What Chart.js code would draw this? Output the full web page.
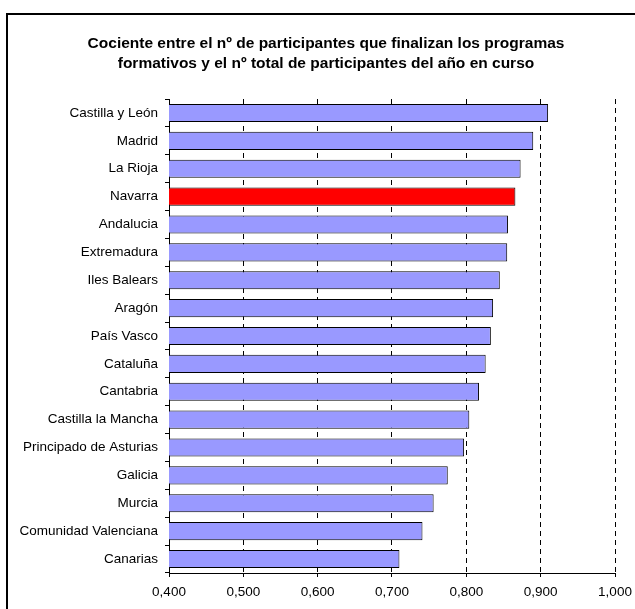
<!DOCTYPE html>
<html>
<head>
<meta charset="utf-8">
<script src="https://cdn.jsdelivr.net/npm/chart.js@4/dist/chart.umd.min.js"></script>
<style>
  html, body { margin: 0; padding: 0; background: #fff; }
  #wrap { position: relative; width: 635px; height: 609px; overflow: hidden; }
  #frame {
    position: absolute; left: 6px; top: 13px; right: -4px; bottom: -4px;
    border-left: 2px solid #000; border-top: 2px solid #000;
    pointer-events: none;
  }
  #title {
    position: absolute; left: 0; top: 33px; width: 652px;
    text-align: center; font: bold 15.5px Arial, "Liberation Sans", sans-serif;
    line-height: 20px; color: #000;
  }
  canvas { position: absolute; left: 0; top: 0; }
</style>
</head>
<body>
<div id="wrap">
  <canvas id="chart" width="635" height="609"></canvas>
  <div id="title"></div>
  <div id="frame"></div>
</div>
<script>
const regions = [
  'Castilla y León', 'Madrid', 'La Rioja', 'Navarra', 'Andalucia', 'Extremadura',
  'Iles Balears', 'Aragón', 'País Vasco', 'Cataluña', 'Cantabria',
  'Castilla la Mancha', 'Principado de Asturias', 'Galicia', 'Murcia',
  'Comunidad Valenciana', 'Canarias'
];
const ratios = [
  0.910, 0.890, 0.873, 0.866, 0.856, 0.855,
  0.845, 0.836, 0.833, 0.826, 0.817,
  0.804, 0.797, 0.775, 0.756,
  0.741, 0.710
];
const highlighted = 'Navarra';
const xTicks = [0.4, 0.5, 0.6, 0.7, 0.8, 0.9, 1.0];
const titleLines = [
  'Cociente entre el nº de participantes que finalizan los programas',
  'formativos y el nº total de participantes del año en curso'
];

// title drawn as html text so it can be centred like the original
const titleEl = document.getElementById('title');
titleLines.forEach(line => {
  const d = document.createElement('div');
  d.textContent = line;
  titleEl.appendChild(d);
});

const barColors = regions.map(r => r === highlighted ? '#FF0000' : '#9999FF');
const fontFamily = 'Arial, "Liberation Sans", sans-serif';

new Chart(document.getElementById('chart'), {
  type: 'bar',
  data: {
    labels: regions,
    datasets: [{
      data: ratios,
      backgroundColor: barColors,
      borderColor: '#000000',
      borderWidth: 1,
      borderSkipped: false,
      categoryPercentage: 1,
      barPercentage: 0.65,
    }],
  },
  options: {
    indexAxis: 'y',
    responsive: false,
    animation: false,
    layout: { padding: { left: 8, right: 20, top: 99, bottom: 8 } },
    plugins: {
      legend: { display: false },
      tooltip: { enabled: false },
      title: { display: false },
    },
    scales: {
      x: {
        min: 0.4,
        max: 1.0,
        afterBuildTicks: scale => {
          scale.ticks = xTicks.map(v => ({ value: v }));
        },
        afterFit: scale => {
          scale.height = 28;
          scale.paddingRight = 0;
          scale.paddingLeft = 0;
        },
        ticks: {
          color: '#000',
          font: { family: fontFamily, size: 13.5 },
          padding: 7,
          callback: val => Number(val).toFixed(3).replace('.', ','),
        },
        grid: {
          color: '#000',
          lineWidth: 1,
          drawTicks: true,
          tickLength: 4,
          tickColor: '#000',
        },
        border: { display: true, color: '#000', width: 1, dash: [5, 4] },
      },
      y: {
        afterFit: scale => { scale.width = 161; },
        ticks: {
          color: '#000',
          font: { family: fontFamily, size: 13.5 },
          padding: 7,
          autoSkip: false,
        },
        grid: {
          drawOnChartArea: false,
          drawTicks: true,
          tickLength: 4,
          tickColor: '#000',
          offset: true,
        },
        border: { display: true, color: '#000', width: 1 },
      },
    },
  },
});
</script>
</body>
</html>
